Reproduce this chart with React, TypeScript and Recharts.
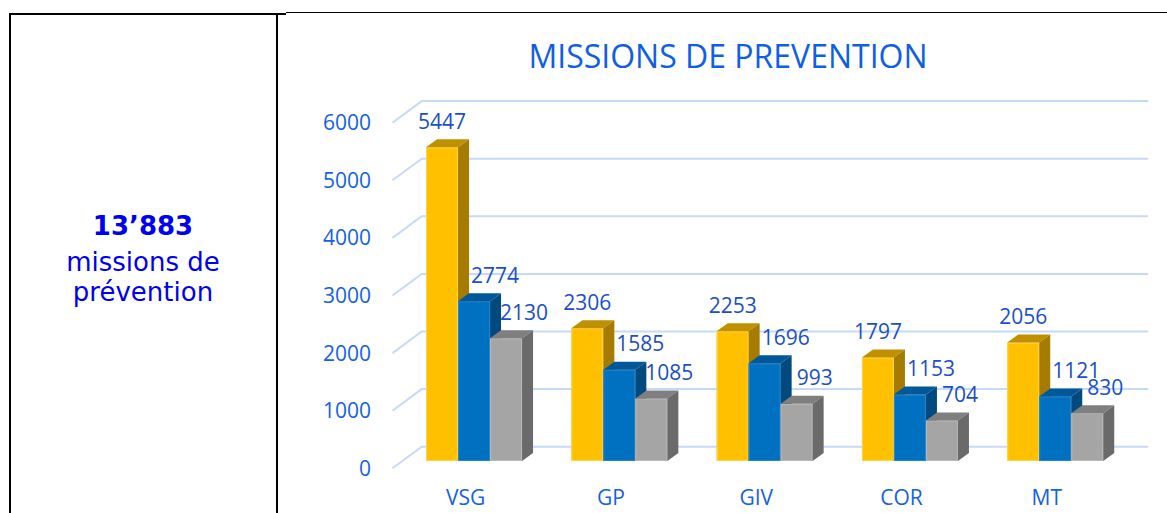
import { Bar, BarChart, CartesianGrid, LabelList, XAxis, YAxis } from 'recharts';

const categories = ['VSG', 'GP', 'GIV', 'COR', 'MT'];
const yellowValues = [5447, 2306, 2253, 1797, 2056];
const blueValues = [2774, 1585, 1696, 1153, 1121];
const greyValues = [2130, 1085, 993, 704, 830];
const yTicks = [0, 1000, 2000, 3000, 4000, 5000, 6000];

const data = categories.map((name, i) => ({
  name,
  yellow: yellowValues[i],
  blue: blueValues[i],
  grey: greyValues[i],
}));

// depth of the fake 3d boxes
const DX = 11;
const DY = 8;

const FACES = {
  yellow: { front: '#FFC000', edge: '#FFD44D', top: '#BF9000', side: '#A67C00' },
  blue: { front: '#0070C0', edge: '#2A86CC', top: '#00589B', side: '#004A80' },
  grey: { front: '#A5A5A5', edge: '#B8B8B8', top: '#7F7F7F', side: '#6A6A6A' },
};

const FONT = '"Open Sans", sans-serif';

function Box3D(props: any) {
  const { x, y, width: w, height: h, faces } = props;
  if (!h || h <= 0) return null;
  return (
    <g>
      <rect x={x} y={y} width={w} height={h} fill={faces.front} />
      <rect x={x + 0.5} y={y + 0.5} width={w - 1} height={h - 1} fill="none" stroke={faces.edge} strokeWidth={1} />
      <polygon
        points={`${x},${y} ${x + DX},${y - DY} ${x + w + DX},${y - DY} ${x + w},${y}`}
        fill={faces.top}
      />
      <polygon
        points={`${x + w},${y} ${x + w + DX},${y - DY} ${x + w + DX},${y + h - DY} ${x + w},${y + h}`}
        fill={faces.side}
      />
    </g>
  );
}

const makeLabel = (shift: number) => (p: any) => {
  const vb = p.viewBox ?? p;
  return (
    <text
      x={vb.x + vb.width / 2 + shift}
      y={vb.y - 26 + 7.5}
      textAnchor="middle"
      fontFamily={FONT}
      fontSize={21}
      fill="#1A4FC8"
    >
      {p.value}
    </text>
  );
};

// grid line with the slanted floor part on the left
function GridLine(p: any) {
  const { x1, x2, y1 } = p;
  return (
    <path
      key={`g-${y1}`}
      d={`M${x1 - 9.5},${y1 + 7.3} L${x1 + 19.7},${y1 - 14.3} L${x2 + 19.7},${y1 - 14.3}`}
      stroke="#C6D9F9"
      strokeWidth={2}
      fill="none"
    />
  );
}

export default function App() {
  return (
    <div style={{ position: 'absolute', left: 0, top: 0, width: 1167, height: 513, background: '#fff' }}>
      <svg width={1167} height={513} style={{ position: 'absolute', left: 0, top: 0 }}>
        <rect x={9} y={13} width={2} height={500} fill="#000" />
        <rect x={276} y={13} width={2} height={500} fill="#000" />
        <rect x={9} y={13} width={277} height={2} fill="#000" />
        <rect x={286} y={12} width={881} height={1} fill="#000" />
        <text x={143} y={235} textAnchor="middle" fontFamily="'DejaVu Sans', Verdana, sans-serif" fontWeight="bold" fontSize={26} fill="#0000F0">
          13’883
        </text>
        <text x={143} y={270.5} textAnchor="middle" fontFamily="'DejaVu Sans', Verdana, sans-serif" fontSize={26} fill="#0000F0">
          missions de
        </text>
        <text x={143} y={300.5} textAnchor="middle" fontFamily="'DejaVu Sans', Verdana, sans-serif" fontSize={26} fill="#0000F0">
          prévention
        </text>
        <text x={728} y={67.5} textAnchor="middle" fontFamily={FONT} fontSize={32} fill="#0F5FE6">
          MISSIONS DE PREVENTION
        </text>
      </svg>
      <div style={{ position: 'absolute', left: 0, top: 0 }}>
        <BarChart
          width={1167}
          height={513}
          data={data}
          margin={{ top: 115.4, right: 38.5, bottom: 22, left: 342 }}
          barCategoryGap="16.55%"
          barGap={0}
        >
          <CartesianGrid vertical={false} horizontal={GridLine} />
          <XAxis
            dataKey="name"
            height={30}
            axisLine={false}
            tickLine={false}
            tickSize={0}
            tickMargin={0}
            tick={(p: any) => (
              <text x={p.x - 9} y={p.y + 44} textAnchor="middle" fontFamily={FONT} fontSize={21} fill="#1560E6">
                {p.payload.value}
              </text>
            )}
          />
          <YAxis
            width={60}
            domain={[0, 6000]}
            ticks={yTicks}
            axisLine={false}
            tickLine={false}
            tickSize={0}
            tickMargin={31}
            tick={(p: any) => (
              <text x={p.x} y={p.y + 7.3 + 7.5} textAnchor="end" fontFamily={FONT} fontSize={21} fill="#1560E6">
                {p.payload.value}
              </text>
            )}
          />
          <Bar dataKey="yellow" isAnimationActive={false} shape={(p: any) => <Box3D {...p} faces={FACES.yellow} />}>
            <LabelList dataKey="yellow" content={makeLabel(0)} />
          </Bar>
          <Bar dataKey="blue" isAnimationActive={false} shape={(p: any) => <Box3D {...p} faces={FACES.blue} />}>
            <LabelList dataKey="blue" content={makeLabel(21)} />
          </Bar>
          <Bar dataKey="grey" isAnimationActive={false} shape={(p: any) => <Box3D {...p} faces={FACES.grey} />}>
            <LabelList dataKey="grey" content={makeLabel(18)} />
          </Bar>
        </BarChart>
      </div>
    </div>
  );
}
